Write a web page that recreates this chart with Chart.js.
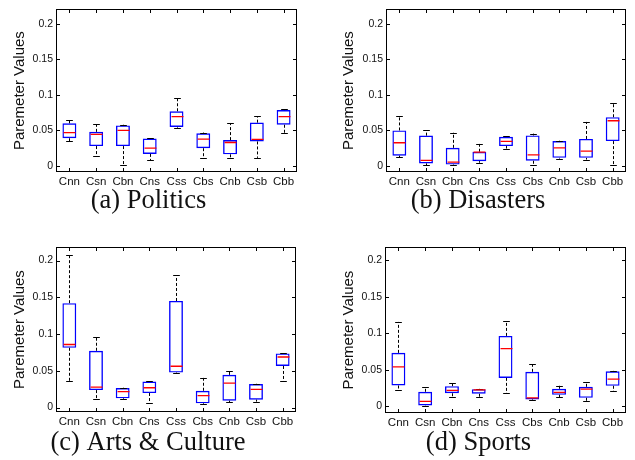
<!DOCTYPE html>
<html><head><meta charset="utf-8">
<script src="https://cdn.jsdelivr.net/npm/chart.js@4.4.1/dist/chart.umd.min.js"></script>
<style>
html,body{margin:0;padding:0;background:#fff;width:635px;height:460px;overflow:hidden;}
.p{position:absolute;}
canvas{display:block;}
</style></head><body>
<div class="p" style="left:0px;top:0px"><canvas id="ca" width="310" height="225" style="width:310px;height:225px"></canvas></div>
<div class="p" style="left:330px;top:0px"><canvas id="cb" width="304" height="225" style="width:304px;height:225px"></canvas></div>
<div class="p" style="left:0px;top:238px"><canvas id="cc" width="310" height="222" style="width:310px;height:222px"></canvas></div>
<div class="p" style="left:331px;top:238px"><canvas id="cd" width="304" height="222" style="width:304px;height:222px"></canvas></div>
<script>
const categories = ['Cnn','Csn','Cbn','Cns','Css','Cbs','Cnb','Csb','Cbb'];
const yTickValues = [0, 0.05, 0.1, 0.15, 0.2];
const yTickLabels = ['0', '0.05', '0.1', '0.15', '0.2'];
const yAxisTitle = 'Paremeter Values';
const panelTitles = ['(a) Politics', '(b) Disasters', '(c) Arts & Culture', '(d) Sports'];

// (a) Politics
const politicsLow    = [0.035, 0.0136, 0.002, 0.0077, 0.054, 0.0114, 0.0114, 0.0114, 0.046];
const politicsQ1     = [0.039, 0.028, 0.028, 0.017, 0.055, 0.025, 0.0164, 0.0345, 0.058];
const politicsMedian = [0.047, 0.0445, 0.050, 0.025, 0.0695, 0.0377, 0.033, 0.0373, 0.0695];
const politicsQ3     = [0.060, 0.048, 0.057, 0.0386, 0.077, 0.046, 0.0364, 0.061, 0.0786];
const politicsHigh   = [0.064, 0.059, 0.058, 0.039, 0.096, 0.047, 0.0605, 0.070, 0.080];

// (b) Disasters
const disastersLow    = [0.012, 0.001, 0.0014, 0.0045, 0.0245, 0.002, 0.0105, 0.009, 0.001];
const disastersQ1     = [0.0145, 0.0036, 0.002, 0.0068, 0.028, 0.0073, 0.0114, 0.0114, 0.035];
const disastersMedian = [0.0327, 0.008, 0.0055, 0.0195, 0.0345, 0.0155, 0.0255, 0.021, 0.0636];
const disastersQ3     = [0.050, 0.0427, 0.0255, 0.020, 0.041, 0.043, 0.035, 0.038, 0.0686];
const disastersHigh   = [0.071, 0.0505, 0.047, 0.031, 0.042, 0.0455, 0.0355, 0.062, 0.089];

// (c) Arts & Culture
const artsLow    = [0.0364, 0.0117, 0.0117, 0.0067, 0.047, 0.0045, 0.0076, 0.0081, 0.036];
const artsQ1     = [0.0813, 0.0238, 0.0126, 0.0198, 0.0476, 0.0058, 0.0094, 0.0108, 0.0566];
const artsMedian = [0.0858, 0.0279, 0.0216, 0.027, 0.0562, 0.0162, 0.0333, 0.0247, 0.0688];
const artsQ3     = [0.142, 0.0773, 0.0265, 0.0355, 0.145, 0.0229, 0.0445, 0.032, 0.0737];
const artsHigh   = [0.207, 0.0957, 0.027, 0.036, 0.180, 0.0404, 0.0503, 0.0324, 0.0742];

// (d) Sports
const sportsLow    = [0.0218, 0.001, 0.0127, 0.0127, 0.018, 0.0082, 0.0127, 0.0077, 0.021];
const sportsQ1     = [0.0286, 0.0014, 0.018, 0.0173, 0.039, 0.0095, 0.0159, 0.0118, 0.0282];
const sportsMedian = [0.054, 0.0068, 0.0218, 0.0227, 0.079, 0.0118, 0.0191, 0.0236, 0.0373];
const sportsQ3     = [0.0732, 0.020, 0.0277, 0.0236, 0.0964, 0.0473, 0.0241, 0.0268, 0.048];
const sportsHigh   = [0.1155, 0.0264, 0.0318, 0.024, 0.1164, 0.0577, 0.0282, 0.0336, 0.0486];

const SANS = '"Liberation Sans", Arial, Helvetica, sans-serif';
const SERIF = '"Liberation Serif", "Times New Roman", serif';

function makePanel(canvasId, g, title, low, q1, med, q3, high) {
  const ttlSize = 26.5, ttlLH = ttlSize * 1.2;
  const ySize = 15, yLH = ySize * 1.2;
  const xSize = 11.5;

  const boxPlugin = {
    id: 'boxdraw_' + canvasId,
    afterDatasetsDraw(chart) {
      const {ctx, chartArea: a, scales: {x, y}} = chart;
      const unit = x.getPixelForValue(1) - x.getPixelForValue(0);
      ctx.save();
      ctx.beginPath();
      ctx.rect(a.left, a.top, a.width, a.height);
      ctx.clip();
      for (let i = 0; i < categories.length; i++) {
        const cx = Math.round(x.getPixelForValue(i)) + 0.5;
        // whiskers (dashed)
        ctx.strokeStyle = '#000';
        ctx.lineWidth = 1;
        ctx.setLineDash([3, 2]);
        ctx.beginPath();
        ctx.moveTo(cx, y.getPixelForValue(q3[i]));
        ctx.lineTo(cx, y.getPixelForValue(high[i]));
        ctx.moveTo(cx, y.getPixelForValue(q1[i]));
        ctx.lineTo(cx, y.getPixelForValue(low[i]));
        ctx.stroke();
        ctx.setLineDash([]);
        // caps
        const cw = unit * 0.125;
        ctx.beginPath();
        const yh = Math.round(y.getPixelForValue(high[i])) + 0.5;
        const yl = Math.round(y.getPixelForValue(low[i])) + 0.5;
        ctx.moveTo(cx - cw, yh); ctx.lineTo(cx + cw, yh);
        ctx.moveTo(cx - cw, yl); ctx.lineTo(cx + cw, yl);
        ctx.stroke();
        // median
        const bw = unit * 0.26;
        const ym = y.getPixelForValue(med[i]);
        ctx.strokeStyle = '#ff0000';
        ctx.lineWidth = 1.3;
        ctx.beginPath();
        ctx.moveTo(cx - bw + 1, ym); ctx.lineTo(cx + bw - 1, ym);
        ctx.stroke();
      }
      ctx.restore();
      // frame + inward ticks
      ctx.save();
      ctx.strokeStyle = '#000';
      ctx.lineWidth = 1;
      const L = Math.round(a.left) + 0.5, R = Math.round(a.right) - 0.5;
      const T = Math.round(a.top) + 0.5, B = Math.round(a.bottom) - 0.5;
      ctx.strokeRect(L, T, R - L, B - T);
      ctx.beginPath();
      const tl = 3.5;
      yTickValues.forEach(v => {
        const py = Math.round(y.getPixelForValue(v)) + 0.5;
        ctx.moveTo(L, py); ctx.lineTo(L + tl, py);
        ctx.moveTo(R, py); ctx.lineTo(R - tl, py);
      });
      categories.forEach((c, i) => {
        const px = Math.round(x.getPixelForValue(i)) + 0.5;
        ctx.moveTo(px, B); ctx.lineTo(px, B - tl);
        ctx.moveTo(px, T); ctx.lineTo(px, T + tl);
      });
      ctx.stroke();
      ctx.restore();
    }
  };

  return new Chart(document.getElementById(canvasId), {
    type: 'bar',
    data: {
      labels: categories,
      datasets: [{
        data: categories.map((c, i) => [q1[i], q3[i]]),
        backgroundColor: 'rgba(0,0,0,0)',
        borderColor: '#0000ff',
        borderWidth: 1.4,
        borderSkipped: false,
        barPercentage: 0.52,
        categoryPercentage: 1.0
      }]
    },
    options: {
      responsive: false,
      animation: false,
      devicePixelRatio: 1,
      layout: { padding: { left: 0, top: g.plotTop, right: g.W - g.plotRight, bottom: 0 } },
      plugins: {
        legend: { display: false },
        tooltip: { enabled: false },
        title: {
          display: true,
          position: 'bottom',
          text: title,
          color: '#111',
          font: { family: SERIF, size: ttlSize, weight: 'normal', lineHeight: 1.2 },
          padding: { top: 0, bottom: Math.max(0, g.H - g.titleY - ttlLH / 2) }
        }
      },
      scales: {
        x: {
          type: 'category',
          offset: true,
          grid: { display: false, drawTicks: false },
          border: { display: false },
          ticks: { color: '#111', padding: 2.5, maxRotation: 0, autoSkip: false,
                   font: { family: SANS, size: xSize, lineHeight: 1.2 } },
          afterFit: s => { s.height = g.titleY - g.plotBottom - ttlLH / 2; }
        },
        y: {
          type: 'linear',
          min: g.yMin,
          max: g.yMax,
          grid: { display: false, drawTicks: false },
          border: { display: false },
          afterBuildTicks: axis => { axis.ticks = yTickValues.map(v => ({ value: v })); },
          ticks: {
            color: '#111', padding: 3,
            font: { family: SANS, size: 10.5 },
            callback: (v, idx) => yTickLabels[idx]
          },
          title: {
            display: true,
            text: yAxisTitle,
            color: '#111',
            font: { family: SANS, size: ySize, lineHeight: 1.2 },
            padding: { top: g.yLabelX - yLH / 2, bottom: 0 }
          },
          afterFit: s => { s.width = g.plotLeft; }
        }
      }
    },
    plugins: [boxPlugin]
  });
}

makePanel('ca', { W: 310, H: 225, plotLeft: 56, plotRight: 297, plotTop: 5, plotBottom: 172,
  titleY: 201, yLabelX: 19.5, yMin: -0.0085, yMax: 0.2205 },
  panelTitles[0], politicsLow, politicsQ1, politicsMedian, politicsQ3, politicsHigh);

makePanel('cb', { W: 304, H: 225, plotLeft: 56, plotRight: 296, plotTop: 5, plotBottom: 172,
  titleY: 201, yLabelX: 18.5, yMin: -0.0085, yMax: 0.2205 },
  panelTitles[1], disastersLow, disastersQ1, disastersMedian, disastersQ3, disastersHigh);

makePanel('cc', { W: 310, H: 222, plotLeft: 56, plotRight: 296, plotTop: 8, plotBottom: 174,
  titleY: 205, yLabelX: 19.5, yMin: -0.006, yMax: 0.218 },
  panelTitles[2], artsLow, artsQ1, artsMedian, artsQ3, artsHigh);

makePanel('cd', { W: 304, H: 222, plotLeft: 54, plotRight: 295, plotTop: 9, plotBottom: 175,
  titleY: 205, yLabelX: 17.5, yMin: -0.009, yMax: 0.2175 },
  panelTitles[3], sportsLow, sportsQ1, sportsMedian, sportsQ3, sportsHigh);
</script>
</body></html>
